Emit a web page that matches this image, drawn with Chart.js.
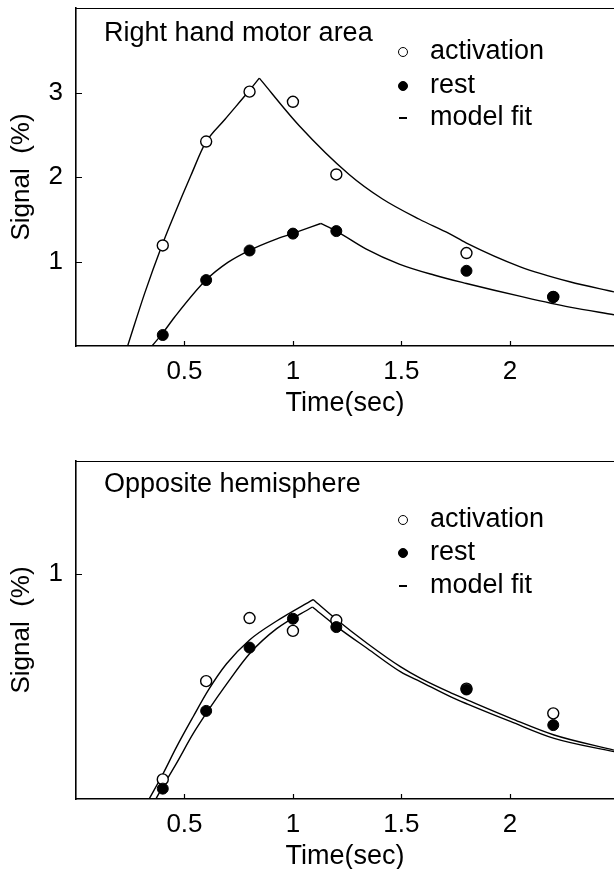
<!DOCTYPE html>
<html>
<head>
<meta charset="utf-8">
<script src="https://cdn.jsdelivr.net/npm/chart.js@4.4.1/dist/chart.umd.min.js"></script>
<style>
    body { margin: 0; background: #fff; width: 614px; height: 869px; overflow: hidden; font-family: "Liberation Sans", Arial, sans-serif; }
    .panel { position: absolute; left: 0; width: 614px; height: 416px; }
    .lbl { position: absolute; font-size: 27px; line-height: 30px; color: #000; white-space: nowrap; }
    .mk { position: absolute; box-sizing: border-box; }
</style>
</head>
<body>
<div class="panel" id="p1" style="top:0">
    <canvas id="c1" width="614" height="416"></canvas>
</div>
<div class="panel" id="p2" style="top:453px">
    <canvas id="c2" width="614" height="416"></canvas>
</div>
<script>
// sample times (sec) and tick values
const times = [0.4, 0.6, 0.8, 1.0, 1.2, 1.8, 2.2];
const xTicks = [0.5, 1, 1.5, 2];
const topYTicks = [1, 2, 3];
const bottomYTicks = [1];

// Right hand motor area
const topActivation = [1.19, 2.42, 3.01, 2.89, 2.03, 1.10, 0.58];
const topRest = [0.13, 0.78, 1.13, 1.33, 1.36, 0.89, 0.58];
const topActFitRiseX = [0.238, 0.316, 0.396, 0.454, 0.53, 0.596, 0.686, 0.798, 0.845];
const topActFitRiseY = [0, 0.62, 1.19, 1.56, 2.02, 2.40, 2.68, 3.02, 3.17];
const topActFitDecayX = [0.845, 1.028, 1.259, 1.413, 1.583, 1.721, 1.798, 2.045, 2.276, 2.48];
const topActFitDecayY = [3.17, 2.61, 2.03, 1.74, 1.50, 1.33, 1.22, 0.94, 0.76, 0.64];
const topRestFitRiseX = [0.35, 0.396, 0.454, 0.599, 0.70, 0.798, 0.917, 0.997, 1.128];
const topRestFitRiseY = [0, 0.14, 0.34, 0.78, 0.99, 1.13, 1.26, 1.33, 1.45];
const topRestFitDecayX = [1.128, 1.2, 1.336, 1.49, 1.65, 1.8, 2.045, 2.276, 2.48];
const topRestFitDecayY = [1.45, 1.36, 1.15, 0.97, 0.84, 0.74, 0.59, 0.46, 0.37];

// Opposite hemisphere
const bottomActivation = [0.087, 0.523, 0.803, 0.746, 0.793, 0.49, 0.38];
const bottomRest = [0.046, 0.391, 0.672, 0.80, 0.763, 0.486, 0.328];
const bottomActFitRiseX = [0.337, 0.40, 0.463, 0.54, 0.61, 0.694, 0.80, 0.925, 1.093];
const bottomActFitRiseY = [0, 0.11, 0.23, 0.365, 0.483, 0.60, 0.706, 0.79, 0.885];
const bottomActFitDecayX = [1.093, 1.205, 1.343, 1.497, 1.589, 1.728, 1.805, 2.005, 2.204, 2.48];
const bottomActFitDecayY = [0.885, 0.793, 0.69, 0.586, 0.535, 0.471, 0.439, 0.358, 0.284, 0.217];
const bottomRestFitRiseX = [0.368, 0.40, 0.463, 0.54, 0.61, 0.694, 0.80, 0.925, 1.09];
const bottomRestFitRiseY = [0, 0.055, 0.158, 0.29, 0.394, 0.51, 0.645, 0.756, 0.852];
const bottomRestFitDecayX = [1.09, 1.205, 1.343, 1.497, 1.589, 1.728, 1.805, 2.005, 2.204, 2.48];
const bottomRestFitDecayY = [0.852, 0.763, 0.668, 0.564, 0.52, 0.453, 0.421, 0.343, 0.269, 0.21];

const FONT = '"Liberation Sans", Arial, sans-serif';

function toPts(xs, ys) {
    return xs.map((x, i) => ({ x: x, y: ys[i] }));
}

function fitLine(xs, ys) {
    return {
        data: toPts(xs, ys),
        showLine: true,
        pointRadius: 0,
        borderColor: '#000',
        borderWidth: 1.4,
        cubicInterpolationMode: 'monotone'
    };
}

// top border line and inward tick marks
const framePlugin = {
    id: 'frame',
    afterDraw(chart) {
        const { ctx, chartArea: a, scales } = chart;
        ctx.save();
        ctx.strokeStyle = '#000';
        ctx.lineWidth = 1.2;
        ctx.beginPath();
        ctx.moveTo(a.left, a.top + 0.5);
        ctx.lineTo(a.right, a.top + 0.5);
        scales.x.ticks.forEach(t => {
            const px = Math.round(scales.x.getPixelForValue(t.value)) + 0.5;
            ctx.moveTo(px, a.bottom);
            ctx.lineTo(px, a.bottom - 5);
        });
        scales.y.ticks.forEach(t => {
            const py = Math.round(scales.y.getPixelForValue(t.value)) + 0.5;
            ctx.moveTo(a.left, py);
            ctx.lineTo(a.left + 6, py);
        });
        ctx.stroke();
        ctx.restore();
    }
};

function makeChart(id, d) {
    return new Chart(document.getElementById(id), {
        type: 'scatter',
        data: {
            datasets: [
                { data: toPts(times, d.rest), pointRadius: 5.5, pointHoverRadius: 5.5, backgroundColor: '#000', borderColor: '#000', borderWidth: 1 },
                { data: toPts(times, d.act), pointRadius: 5.5, pointHoverRadius: 5.5, backgroundColor: '#fff', borderColor: '#000', borderWidth: 1.4 },
                fitLine(d.actRiseX, d.actRiseY),
                fitLine(d.actDecayX, d.actDecayY),
                fitLine(d.restRiseX, d.restRiseY),
                fitLine(d.restDecayX, d.restDecayY)
            ]
        },
        options: {
            responsive: false,
            animation: false,
            devicePixelRatio: 1,
            layout: { autoPadding: false, padding: { top: 8, left: 0, right: 0, bottom: 0 } },
            plugins: { legend: { display: false }, tooltip: { enabled: false } },
            scales: {
                x: {
                    type: 'linear',
                    min: 0,
                    max: 2.48,
                    grid: { display: false, drawTicks: false },
                    border: { color: '#000', width: 1.6 },
                    ticks: { color: '#000', font: { family: FONT, size: 26 }, padding: 10, callback: v => String(v) },
                    afterBuildTicks: s => { s.ticks = xTicks.map(v => ({ value: v })); },
                    afterFit: s => { s.height = 70; s.paddingLeft = 0; s.paddingRight = 0; },
                    title: { display: true, text: 'Time(sec)', color: '#000', font: { family: FONT, size: 27, lineHeight: 0.9 }, padding: 0 }
                },
                y: {
                    type: 'linear',
                    min: 0,
                    max: d.yMax,
                    grid: { display: false, drawTicks: false },
                    border: { color: '#000', width: 1.6 },
                    ticks: { color: '#000', font: { family: FONT, size: 26 }, padding: 13, callback: v => String(v) },
                    afterBuildTicks: s => { s.ticks = d.yTicks.map(v => ({ value: v })); },
                    afterFit: s => { s.width = 76; s.paddingTop = 0; s.paddingBottom = 0; },
                    title: { display: true, text: 'Signal  (%)', color: '#000', font: { family: FONT, size: 26 }, padding: { top: 6, bottom: 0 } }
                }
            }
        },
        plugins: [framePlugin]
    });
}

function addText(panel, text, left, top) {
    const el = document.createElement('div');
    el.className = 'lbl';
    el.textContent = text;
    el.style.left = left + 'px';
    el.style.top = top + 'px';
    document.getElementById(panel).appendChild(el);
}

function addMarker(panel, kind, cx, cy) {
    const el = document.createElement('div');
    el.className = 'mk';
    if (kind === 'dash') {
        el.style.width = '8px'; el.style.height = '2px';
        el.style.left = (cx - 4) + 'px'; el.style.top = (cy - 1) + 'px';
        el.style.background = '#000';
    } else {
        el.style.width = '10px'; el.style.height = '10px';
        el.style.left = (cx - 5) + 'px'; el.style.top = (cy - 5) + 'px';
        el.style.borderRadius = '50%';
        el.style.border = '1.4px solid #000';
        el.style.background = kind === 'filled' ? '#000' : '#fff';
    }
    document.getElementById(panel).appendChild(el);
}

function addLegend(panel, title, titleTop, rows) {
    addText(panel, title, 104, titleTop);
    const kinds = ['open', 'filled', 'dash'];
    const labels = ['activation', 'rest', 'model fit'];
    rows.forEach((cy, i) => {
        addMarker(panel, kinds[i], 403, cy);
        addText(panel, labels[i], 430, cy - 17);
    });
}

makeChart('c1', {
    yMax: 4.0, yTicks: topYTicks,
    act: topActivation, rest: topRest,
    actRiseX: topActFitRiseX, actRiseY: topActFitRiseY,
    actDecayX: topActFitDecayX, actDecayY: topActFitDecayY,
    restRiseX: topRestFitRiseX, restRiseY: topRestFitRiseY,
    restDecayX: topRestFitDecayX, restDecayY: topRestFitDecayY
});
makeChart('c2', {
    yMax: 1.5, yTicks: bottomYTicks,
    act: bottomActivation, rest: bottomRest,
    actRiseX: bottomActFitRiseX, actRiseY: bottomActFitRiseY,
    actDecayX: bottomActFitDecayX, actDecayY: bottomActFitDecayY,
    restRiseX: bottomRestFitRiseX, restRiseY: bottomRestFitRiseY,
    restDecayX: bottomRestFitDecayX, restDecayY: bottomRestFitDecayY
});

addLegend('p1', 'Right hand motor area', 17, [52, 86, 118]);
addLegend('p2', 'Opposite hemisphere', 15, [67, 100, 133]);
</script>
</body>
</html>
